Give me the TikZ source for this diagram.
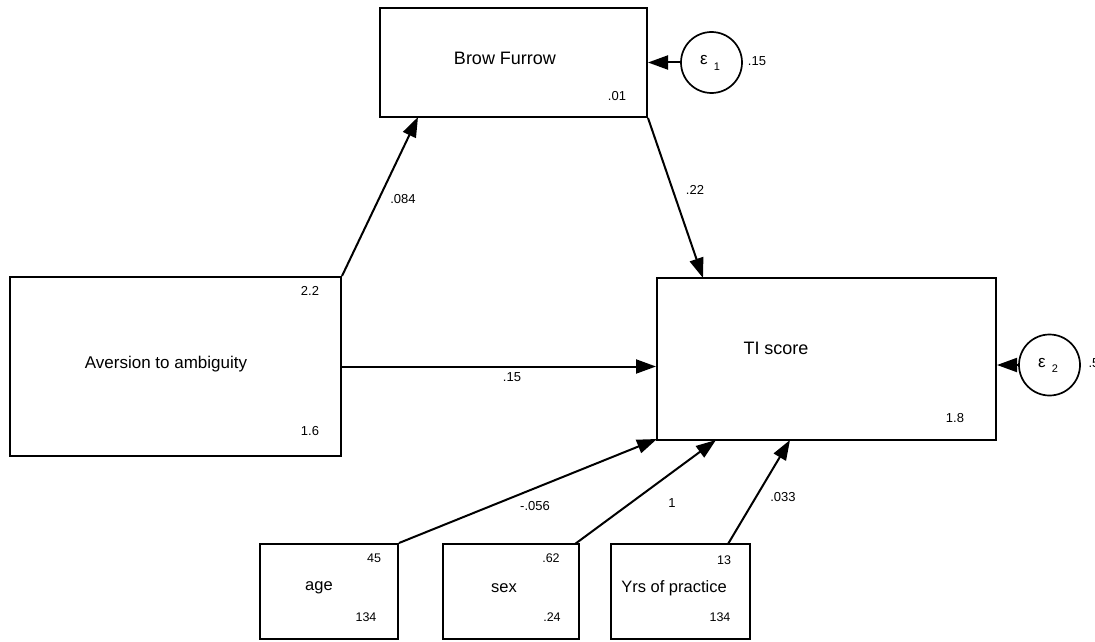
\documentclass[tikz,border=0pt]{standalone}
\usepackage{fontspec}
\setmainfont{Liberation Sans}
\usetikzlibrary{arrows.meta}
\begin{document}
\begin{tikzpicture}[x=1pt,y=-1pt,
  box/.style={draw,line width=2pt,inner sep=0pt},
  err/.style={draw,circle,line width=1.7pt,minimum size=61pt,inner sep=0pt},
  conn/.style={line width=2pt,-{Triangle[length=20pt,width=14pt]}},
  lab/.style={font=\fontsize{18}{20}\selectfont},
  slab/.style={font=\fontsize{16.5}{18}\selectfont},
  num/.style={font=\fontsize{13}{15}\selectfont},
  snum/.style={font=\fontsize{12.5}{14}\selectfont},
  sub/.style={font=\fontsize{11}{12}\selectfont},
]
\useasboundingbox (0,0) rectangle (1095,642);
% boxes
\node[box,minimum width=267pt,minimum height=109pt] (bf) at (513.5,62.5) {};
\node[box,minimum width=331pt,minimum height=179pt] (av) at (175.5,366.5) {};
\node[box,minimum width=339pt,minimum height=162pt] (ti) at (826.5,359) {};
\node[box,minimum width=138pt,minimum height=95pt] (age) at (329,591.5) {};
\node[box,minimum width=136pt,minimum height=95pt] (sex) at (511,591.5) {};
\node[box,minimum width=139pt,minimum height=95pt] (yrs) at (680.5,591.5) {};
% error terms
\node[err] (e1) at (711.5,62.5) {};
\node[err] (e2) at (1049.5,365) {};
% texts in boxes
\node[lab] (bft) at (505,58) {Brow Furrow};
\node[num] (bfn) at (617,96) {.01};
\node[font=\fontsize{17}{19}\selectfont] (avt) at (166,364) {Aversion to ambiguity};
\node[num] (avn1) at (310,291) {2.2};
\node[num] (avn2) at (310,431) {1.6};
\node[lab] (tit) at (776,348) {TI score};
\node[num] (tin) at (955,418) {1.8};
\node[slab] (aget) at (319,588) {age};
\node[snum] (agen1) at (374,558) {45};
\node[snum] (agen2) at (366,617) {134};
\node[slab] (sext) at (504,588) {sex};
\node[snum] (sexn1) at (551,558) {.62};
\node[snum] (sexn2) at (552,617) {.24};
\node[slab] (yrst) at (674,588) {Yrs of practice};
\node[snum] (yrsn1) at (724,560) {13};
\node[snum] (yrsn2) at (720,617) {134};
% epsilon labels
\node[font=\fontsize{17}{19}\selectfont] (e1t) at (704,60) {ε};
\node[sub] (e1s) at (717,67) {1};
\node[num] (e1v) at (757,61) {.15};
\node[font=\fontsize{17}{19}\selectfont] (e2t) at (1042,363) {ε};
\node[sub] (e2s) at (1055,369) {2};
\node[num,anchor=west] (e2v) at (1085,363) {.5};
% connectors
\coordinate (avtr) at (av.north east);
\coordinate (bfbl) at (418,117);
\draw[conn] (avtr) -- (bfbl);
\coordinate (bfbr) at (bf.south east);
\coordinate (titl) at (703,278);
\draw[conn] (bfbr) -- (titl);
\draw[conn] (av.east) -- (ti.west |- av.east);
\coordinate (agetr) at (age.north east);
\coordinate (tibl) at (657,439);
\draw[conn] (agetr) -- (tibl);
\coordinate (sexs) at (575,544);
\coordinate (tib2) at (716,440);
\draw[conn] (sexs) -- (tib2);
\coordinate (yrss) at (728,544);
\coordinate (tib3) at (790,440);
\draw[conn] (yrss) -- (tib3);
\draw[conn] (e1.west) -- (bf.east |- e1.west);
\draw[conn] (e2.west) -- (ti.east |- e2.west);
% path labels
\node[num] (l1) at (403,199) {.084};
\node[num] (l2) at (695,190) {.22};
\node[num] (l3) at (512,377) {.15};
\node[num] (l4) at (535,506) {-.056};
\node[num] (l5) at (672,503) {1};
\node[num] (l6) at (783,497) {.033};
\end{tikzpicture}
\end{document}
